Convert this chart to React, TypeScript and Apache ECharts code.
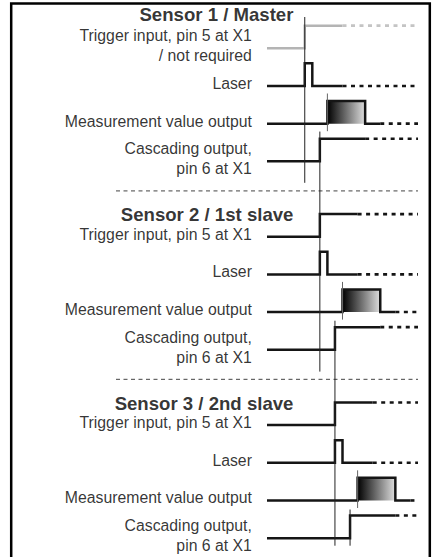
import React, { useEffect, useRef } from "react";
import * as echarts from "echarts";

// ---------- data ----------
const sensorTitles = ["Sensor 1 / Master", "Sensor 2 / 1st slave", "Sensor 3 / 2nd slave"];
const signalNames = [
  ["Trigger input, pin 5 at X1\n/ not required", "Laser", "Measurement value output", "Cascading output,\npin 6 at X1"],
  ["Trigger input, pin 5 at X1", "Laser", "Measurement value output", "Cascading output,\npin 6 at X1"],
  ["Trigger input, pin 5 at X1", "Laser", "Measurement value output", "Cascading output,\npin 6 at X1"],
];
// waveforms: [time, level] (level 0 = low, 1 = high); solid part, then dotted continuation
const sensor1Trigger = [[0, 0], [5, 0], [5, 1], [10, 1]];
const sensor1Laser = [[0, 0], [5, 0], [5, 1], [6, 1], [6, 0], [10, 0]];
const sensor1Measure = [[0, 0], [8, 0], [8, 1], [13, 1], [13, 0], [15, 0]];
const sensor1Cascade = [[0, 0], [7, 0], [7, 1], [13, 1]];
const sensor2Trigger = [[0, 0], [7, 0], [7, 1], [12, 1]];
const sensor2Laser = [[0, 0], [7, 0], [7, 1], [8, 1], [8, 0], [12, 0]];
const sensor2Measure = [[0, 0], [10, 0], [10, 1], [15, 1], [15, 0], [17, 0]];
const sensor2Cascade = [[0, 0], [9, 0], [9, 1], [15, 1]];
const sensor3Trigger = [[0, 0], [9, 0], [9, 1], [14, 1]];
const sensor3Laser = [[0, 0], [9, 0], [9, 1], [10, 1], [10, 0], [14, 0]];
const sensor3Measure = [[0, 0], [12, 0], [12, 1], [17, 1], [17, 0], [19, 0]];
const sensor3Cascade = [[0, 0], [11, 0], [11, 1], [17, 1]];
const waveforms = [
  [sensor1Trigger, sensor1Laser, sensor1Measure, sensor1Cascade],
  [sensor2Trigger, sensor2Laser, sensor2Measure, sensor2Cascade],
  [sensor3Trigger, sensor3Laser, sensor3Measure, sensor3Cascade],
];
const timeEnd = 20;
// measurement value output windows (start, end)
const measureWindows = [[8, 13], [10, 15], [12, 17]];
// vertical guide lines: time, from row-value, to row-value
const guideTimes = [5, 7, 9, 11];
const guideFrom = [-0.83, 2.21, 7.23, 12.24];
const guideTo = [3.57, 8.58, 13.2, 13.2];

// ---------- layout constants ----------
const AMP = 0.6;
const ROWS_PER_SENSOR = 5;
const FONT = '"Liberation Sans", Arial, Helvetica, sans-serif';
const DARK = "#151515";
const GRAY = "#b4b4b4";

export default function App() {
  const ref = useRef<HTMLDivElement>(null);
  useEffect(() => {
    if (!ref.current) return;
    const chart = echarts.init(ref.current, undefined, { renderer: "svg" });
    const series: any[] = [];

    waveforms.forEach((sig, s) => {
      sig.forEach((wave, r) => {
        const idx = s * ROWS_PER_SENSOR + r;
        const pts = wave.map(([t, l]) => [t, idx - l * AMP]);
        const color = s === 0 && r === 0 ? GRAY : DARK;
        series.push({
          type: "line", data: pts, showSymbol: false, silent: true, z: 5,
          lineStyle: { color, width: 2.5, join: "miter", cap: "butt" },
        });
        const last = pts[pts.length - 1];
        series.push({
          type: "line", data: [[last[0], last[1]], [timeEnd, last[1]]], showSymbol: false, silent: true, z: 5,
          lineStyle: { color: s === 0 && r === 0 ? "#c4c4c4" : DARK, width: 2.6, type: [4, 4.5], cap: "butt" },
        });
      });
      // gradient box
      const idxM = s * ROWS_PER_SENSOR + 2;
      const [b0, b1] = measureWindows[s];
      series.push({
        type: "line", silent: true, showSymbol: false, z: 2,
        data: [[b0, idxM], [b0, idxM - AMP], [b1, idxM - AMP], [b1, idxM]],
        lineStyle: { width: 0, opacity: 0 },
        areaStyle: {
          origin: idxM, opacity: 1,
          color: new echarts.graphic.LinearGradient(0, 0, 1, 0, [
            { offset: 0, color: "#000" },
            { offset: 1, color: "#dedede" },
          ]),
        },
      });
      // tick at measurement start
      series.push({
        type: "line", silent: true, showSymbol: false, z: 6,
        data: [[b0, idxM - 0.8], [b0, idxM + 0.2]],
        lineStyle: { color: "#666", width: 1 },
      });
      // separator
      if (s > 0) {
        const y = s * ROWS_PER_SENSOR - 1.215;
        series.push({
          type: "line", silent: true, showSymbol: false, z: 1,
          data: [[-20, y], [20, y]],
          lineStyle: { color: "#444", width: 1, type: [4, 3.5] },
        });
      }
    });

    guideTimes.forEach((t, i) => {
      series.push({
        type: "line", silent: true, showSymbol: false, z: 6,
        data: [[t, guideFrom[i]], [t, guideTo[i]]],
        lineStyle: { color: "#222", width: 1 },
      });
    });

    const labelData: any[] = [];
    const titleData: any[] = [];
    signalNames.forEach((names, s) => {
      names.forEach((n, r) => {
        labelData.push({ name: n, value: [-2, s * ROWS_PER_SENSOR + r - 0.07] });
      });
      const extra = names[0].split("\n").length - 1;
      titleData.push({ name: sensorTitles[s], value: [3.5, s * ROWS_PER_SENSOR - 0.585 - 0.3 * extra] });
    });
    series.push({
      type: "scatter", silent: true, symbolSize: 0, data: labelData, z: 10,
      label: {
        show: true, position: "left", distance: 0, formatter: "{b}", color: "#000",
        fontFamily: FONT, fontSize: 15.8, lineHeight: 20, align: "right",
      },
    });
    series.push({
      type: "scatter", silent: true, symbolSize: 0, data: titleData, z: 10,
      label: {
        show: true, position: "left", distance: 0, formatter: "{b}", color: "#000",
        fontFamily: FONT, fontSize: 18.6, fontWeight: "bold", align: "right",
      },
    });

    chart.setOption({
      animation: false,
      backgroundColor: "#fff",
      grid: { left: 116, right: 15, top: 10.6, bottom: 0 },
      xAxis: { type: "value", min: -20, max: 20, show: false },
      yAxis: { type: "value", min: -1, max: 13.5, inverse: true, show: false },
      graphic: [
        {
          type: "rect", z: 20,
          shape: { x: 11.2, y: 3.5, width: 418.6, height: 700 },
          style: { fill: "none", stroke: "#000", lineWidth: 2.5 },
        },
      ],
      series,
    });
    return () => chart.dispose();
  }, []);
  return <div ref={ref} style={{ position: "absolute", left: 0, top: 0, width: 433, height: 557 }} />;
}
